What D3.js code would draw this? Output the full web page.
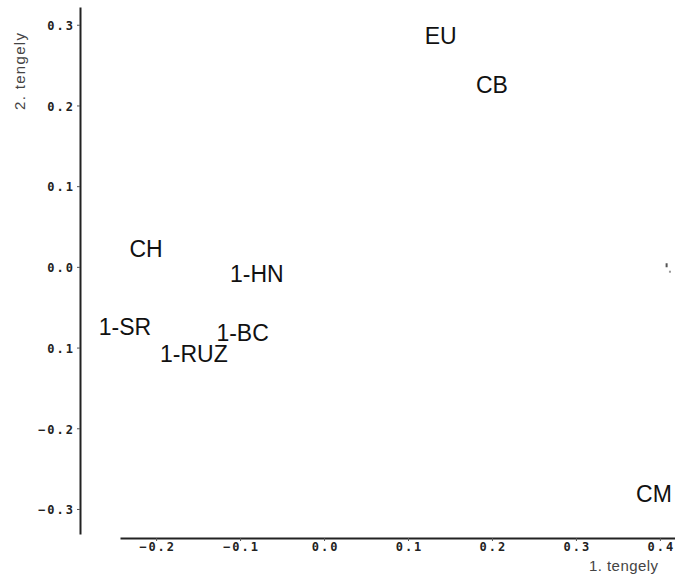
<!DOCTYPE html>
<html>
<head>
<meta charset="utf-8">
<script src="https://cdn.jsdelivr.net/npm/d3@7"></script>
<style>
  html, body { margin: 0; padding: 0; background: #fff; }
  svg { display: block; }
</style>
</head>
<body>
<div id="chart"></div>
<script>
/* ── Data ── */
const labels = ['EU', 'CB', 'CH', '1-HN', '1-SR', '1-BC', '1-RUZ', 'CM'];
const axis1  = [0.139, 0.200, -0.212, -0.080, -0.237, -0.097, -0.155, 0.393];
const axis2  = [0.287, 0.226, 0.022, -0.009, -0.074, -0.081, -0.107, -0.281];

// stray marker with no label, right edge near the 0 line
const strayX = [0.408, 0.412];
const strayY = [0.002, -0.006];

const xTicks = [-0.2, -0.1, 0.0, 0.1, 0.2, 0.3, 0.4];
const xTickLabels = ['−0.2', '−0.1', '0.0', '0.1', '0.2', '0.3', '0.4'];
const yTicks = [0.3, 0.2, 0.1, 0.0, -0.1, -0.2, -0.3];
const yTickLabels = ['0.3', '0.2', '0.1', '0.0', '0.1', '−0.2', '−0.3'];

const W = 675, H = 583;

/* ── Scales ── */
const x = d3.scaleLinear().domain([-0.243, 0.418]).range([120, 675]);
const y = d3.scaleLinear().domain([-0.331, 0.322]).range([534, 7]);

const svg = d3.select('#chart').append('svg')
  .attr('width', W).attr('height', H);

const tickFont = "'DejaVu Sans Mono', monospace";

/* ── Y axis ── */
const yAxisG = svg.append('g')
  .attr('transform', 'translate(80,0)')
  .call(d3.axisLeft(y)
    .tickValues(yTicks)
    .tickFormat((d, i) => yTickLabels[i])
    .tickSize(3).tickSizeOuter(0).tickPadding(2));

/* ── X axis ── */
const xAxisG = svg.append('g')
  .attr('transform', 'translate(0,538)')
  .call(d3.axisBottom(x)
    .tickValues(xTicks)
    .tickFormat((d, i) => xTickLabels[i])
    .tickSize(3).tickSizeOuter(0).tickPadding(3));

[yAxisG, xAxisG].forEach(g => {
  g.select('.domain').attr('stroke', '#222').attr('stroke-width', 2);
  g.selectAll('.tick line').attr('stroke', '#555').attr('stroke-width', 1);
  g.selectAll('.tick text')
    .attr('fill', '#222')
    .attr('font-family', tickFont)
    .attr('font-weight', 'bold')
    .attr('font-size', '12px')
    .attr('letter-spacing', '2px');
});
yAxisG.selectAll('.tick text').attr('dy', '0.4em');
xAxisG.selectAll('.tick text').attr('dx', '1px').attr('dy', '0.55em');

/* ── Axis titles ── */
svg.append('text')
  .attr('x', 658).attr('y', 571)
  .attr('text-anchor', 'end')
  .attr('fill', '#444')
  .attr('font-family', "'Liberation Sans', Arial, sans-serif")
  .attr('font-size', '15px')
  .attr('textLength', 69)
  .text('1. tengely');

svg.append('text')
  .attr('transform', 'translate(25,110) rotate(-90)')
  .attr('text-anchor', 'start')
  .attr('fill', '#444')
  .attr('font-family', "'Liberation Sans', Arial, sans-serif")
  .attr('font-size', '15px')
  .attr('textLength', 77)
  .text('2. tengely');

/* ── Point labels ── */
svg.append('g').selectAll('text')
  .data(labels)
  .join('text')
  .attr('x', (d, i) => x(axis1[i]))
  .attr('y', (d, i) => y(axis2[i]))
  .attr('dy', '0.36em')
  .attr('text-anchor', 'middle')
  .attr('fill', '#111')
  .attr('font-family', "'Liberation Sans', Arial, sans-serif")
  .attr('font-size', '23px')
  .text(d => d);

/* ── Stray marks ── */
svg.append('g').selectAll('rect')
  .data(strayX)
  .join('rect')
  .attr('x', (d, i) => x(d) - 1)
  .attr('y', (d, i) => y(strayY[i]) - (i === 0 ? 2 : 1))
  .attr('width', 2)
  .attr('height', (d, i) => i === 0 ? 4 : 2)
  .attr('fill', (d, i) => i === 0 ? '#555' : '#999');
</script>
</body>
</html>
